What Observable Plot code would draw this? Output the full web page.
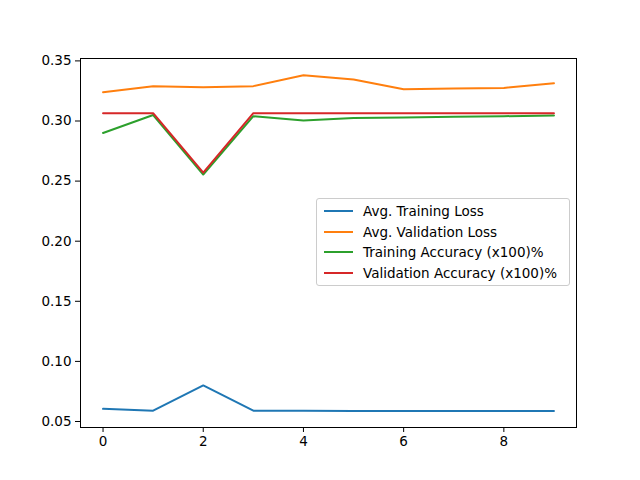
<!DOCTYPE html>
<html>
<head>
<script src="https://cdn.jsdelivr.net/npm/d3@7"></script>
<script src="https://cdn.jsdelivr.net/npm/@observablehq/plot@0.6"></script>
<style>
  body { margin: 0; background: #fff; font-family: "DejaVu Sans", sans-serif; }
  #wrap { position: relative; width: 640px; height: 480px; }
  #legend { position: absolute; left: 316px; top: 198px; width: 252px; padding: 2px 0;
    border: 1px solid #ccc; border-radius: 3px; background: rgba(255,255,255,0.8); font-size: 13.5px; }
  #legend div { display: flex; align-items: center; height: 20.5px; }
  #legend span.sw { display: inline-block; width: 29px; height: 2px; margin: 0 10px 0 7px; }
</style>
</head>
<body>
<div id="wrap"><div id="chart"></div><div id="legend"></div></div>
<script>
const epochs = [0, 1, 2, 3, 4, 5, 6, 7, 8, 9]
const trainLoss = [0.0605, 0.059, 0.080, 0.059, 0.059, 0.0588, 0.0587, 0.0587, 0.0587, 0.0587]
const valLoss = [0.324, 0.329, 0.328, 0.329, 0.338, 0.3345, 0.3265, 0.327, 0.3275, 0.3315]
const trainAcc = [0.290, 0.305, 0.2555, 0.304, 0.3005, 0.3025, 0.303, 0.3035, 0.304, 0.3045]
const valAcc = [0.3065, 0.3065, 0.257, 0.3065, 0.3065, 0.3065, 0.3065, 0.3065, 0.3065, 0.3065]
const names = ["Avg. Training Loss", "Avg. Validation Loss", "Training Accuracy (x100)%", "Validation Accuracy (x100)%"]
const colors = ["#1f77b4", "#ff7f0e", "#2ca02c", "#d62728"]

const series = [trainLoss, valLoss, trainAcc, valAcc]
const data = series.flatMap((s, i) => s.map((v, j) => ({epoch: epochs[j], value: v, name: names[i]})))

let chart = Plot.plot({
  width: 640,
  height: 480,
  marginLeft: 80,
  marginRight: 64,
  marginTop: 58,
  marginBottom: 53,
  style: {fontFamily: "DejaVu Sans", fontSize: "13.5px", color: "#000"},
  x: {domain: [-0.45, 9.45], ticks: [0, 2, 4, 6, 8], tickFormat: "d", label: null, tickSize: 5, tickPadding: 4},
  y: {domain: [0.045, 0.352], ticks: [0.05, 0.1, 0.15, 0.2, 0.25, 0.3, 0.35], tickFormat: ".2f", label: null, tickSize: 5, tickPadding: 4},
  color: {domain: names, range: colors},
  marks: [
    Plot.frame({stroke: "#000"}),
    Plot.line(data, {x: "epoch", y: "value", z: "name", stroke: "name", strokeWidth: 2})
  ]
})
d3.select('#chart').append(() => chart)

const leg = d3.select('#legend')
names.forEach((n, i) => {
  const row = leg.append('div')
  row.append('span').attr('class', 'sw').style('background', colors[i])
  row.append('span').text(n)
})
</script>
</body>
</html>
